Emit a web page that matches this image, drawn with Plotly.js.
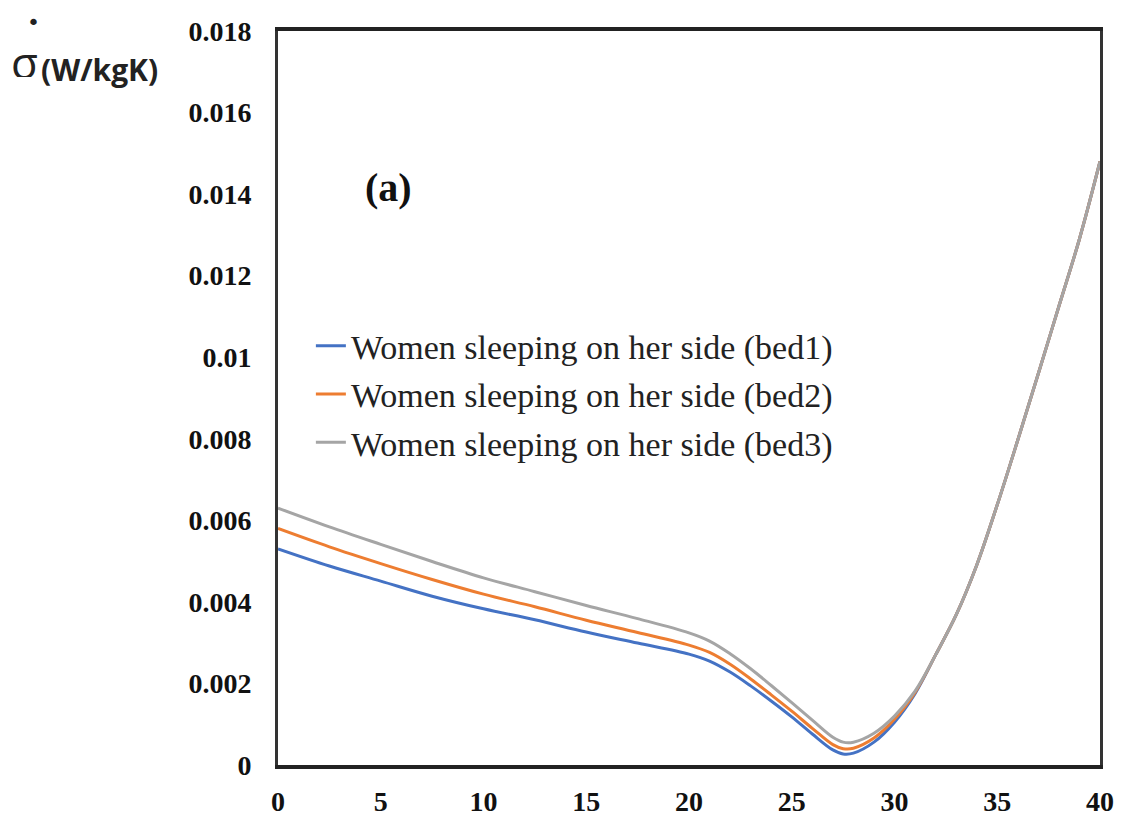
<!DOCTYPE html>
<html>
<head>
<meta charset="utf-8">
<script src="https://cdn.plot.ly/plotly-3.0.1.min.js"></script>
<style>html,body{margin:0;padding:0;background:#fff;}#chart{width:1127px;height:837px;}</style>
</head>
<body>
<div id="chart"></div>
<script>
var xValues = [0, 2.5, 5, 7.5, 10, 12.5, 15, 17.5, 20, 21, 22, 23, 24, 25, 26, 27, 27.5, 28, 29, 30, 31, 32, 33, 34, 35, 36, 37, 38, 39, 40];
var bed1 = [0.0053, 0.00488, 0.00451, 0.00414, 0.00383, 0.00356, 0.00326, 0.00299, 0.00272, 0.00255, 0.00228, 0.00194, 0.00157, 0.00118, 0.00076, 0.00037, 0.00027, 0.00029, 0.00056, 0.00105, 0.00175, 0.0027, 0.00368, 0.0049, 0.00638, 0.00797, 0.0096, 0.01125, 0.0129, 0.0148];
var bed2 = [0.0058, 0.00535, 0.00494, 0.00455, 0.00419, 0.00388, 0.00355, 0.00325, 0.00294, 0.00276, 0.00247, 0.00211, 0.00172, 0.00132, 0.0009, 0.0005, 0.0004, 0.00041, 0.00066, 0.00112, 0.00178, 0.0027, 0.00368, 0.0049, 0.00638, 0.00797, 0.0096, 0.01125, 0.0129, 0.0148];
var bed3 = [0.0063, 0.00584, 0.00541, 0.00499, 0.00459, 0.00425, 0.00391, 0.00359, 0.00324, 0.00304, 0.00273, 0.00236, 0.00195, 0.00153, 0.0011, 0.00068, 0.00056, 0.00056, 0.00078, 0.0012, 0.00181, 0.0027, 0.00368, 0.0049, 0.00638, 0.00797, 0.0096, 0.01125, 0.0129, 0.0148];
var seriesNames = ["Women sleeping on her side (bed1)", "Women sleeping on her side (bed2)", "Women sleeping on her side (bed3)"];
var seriesColors = ["#4472C4", "#ED7D31", "#A5A5A5"];
var xTicks = [0, 5, 10, 15, 20, 25, 30, 35, 40];
var yTicks = [0, 0.002, 0.004, 0.006, 0.008, 0.01, 0.012, 0.014, 0.016, 0.018];
var yTickText = ["0", "0.002", "0.004", "0.006", "0.008", "0.01", "0.012", "0.014", "0.016", "0.018"];

var allSeries = [bed1, bed2, bed3];
var traces = allSeries.map(function (ys, i) {
  return {
    x: xValues, y: ys, type: "scatter", mode: "lines",
    name: seriesNames[i], legendgroup: "g" + i,
    line: {color: seriesColors[i], width: 3, shape: "spline", smoothing: 1}
  };
});

var tickFont = {family: "Liberation Serif", size: 28, color: "#111", weight: "bold"};
var layout = {
  width: 1127, height: 837,
  paper_bgcolor: "#fff", plot_bgcolor: "#fff",
  margin: {l: 278, r: 27, t: 31, b: 72},
  showlegend: true,
  legend: {
    x: 0.04, y: 0.61, xanchor: "left", yanchor: "top",
    bgcolor: "rgba(0,0,0,0)", borderwidth: 0, tracegroupgap: 1,
    font: {family: "Liberation Serif", size: 34, color: "#222"}
  },
  xaxis: {
    range: [0, 40], tickvals: xTicks, ticktext: xTicks.map(String),
    showgrid: false, zeroline: false, ticks: "",
    showline: true, mirror: true, linewidth: 4, linecolor: "#222",
    tickfont: tickFont, ticklabelstandoff: 8
  },
  yaxis: {
    range: [0, 0.018], tickvals: yTicks, ticktext: yTickText,
    showgrid: false, zeroline: false, ticks: "",
    showline: true, mirror: true, linewidth: 3, linecolor: "#333",
    tickfont: tickFont, ticklabelstandoff: 18
  },
  annotations: [
    {xref: "paper", yref: "paper", x: 0.134, y: 0.787, xanchor: "center", yanchor: "middle",
     text: "(a)", showarrow: false,
     font: {family: "Liberation Serif", size: 40, color: "#111", weight: "bold"}},
    {xref: "paper", yref: "paper", x: -0.309, y: 0.958, xanchor: "center", yanchor: "middle",
     text: "σ", showarrow: false, height: 30, font: {family: "Open Sans", size: 44, color: "#222"}},
    {xref: "paper", yref: "paper", x: -0.298, y: 1.012, xanchor: "center", yanchor: "middle",
     text: "•", showarrow: false, height: 12, font: {family: "DejaVu Sans", size: 22, color: "#222"}},
    {xref: "paper", yref: "paper", x: -0.217, y: 0.947, xanchor: "center", yanchor: "middle",
     text: "(W/kgK)", showarrow: false, font: {family: "Open Sans", size: 30, color: "#222", weight: "bold"}}
  ]
};

Plotly.newPlot("chart", traces, layout, {displayModeBar: false, staticPlot: true});
</script>
</body>
</html>
